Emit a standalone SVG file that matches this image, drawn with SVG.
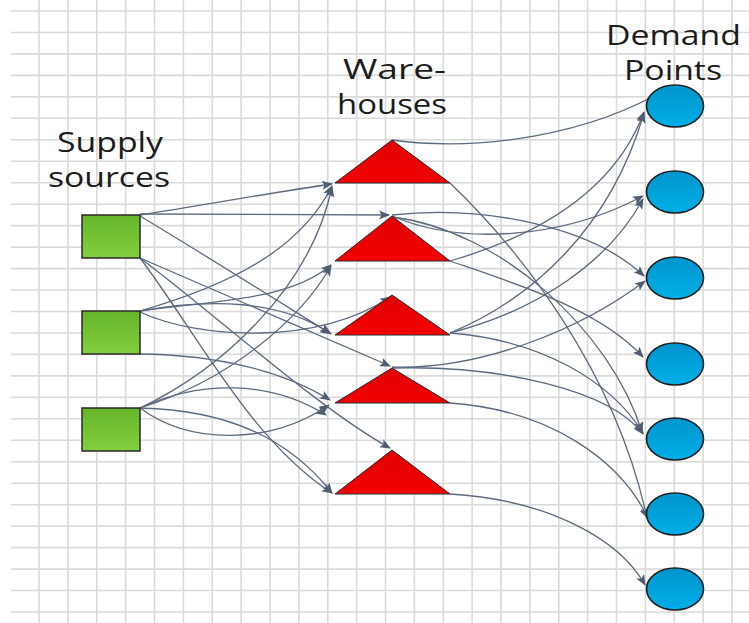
<svg xmlns="http://www.w3.org/2000/svg" width="749" height="623" viewBox="0 0 749 623">
  <style>
    .grid { stroke: #dadada; stroke-width: 1.6; fill: none; }
    .lbl { font-family: "Open Sans", "Noto Sans", "Liberation Sans", sans-serif; font-size: 27px; fill: #1c1c1c; }
    .src { fill: url(#gGreen); stroke: #2a2a2a; stroke-width: 1.5; }
    .wh { fill: url(#gRed); stroke: #2a2a2a; stroke-width: 1; stroke-linejoin: miter; }
    .dp { fill: url(#gBlue); stroke: #1e1e1e; stroke-width: 1.6; }
    .con path { fill: none; stroke: #5c6a80; stroke-width: 1.3; marker-end: url(#arr); }
  </style>
  <defs>
    <linearGradient id="gGreen" x1="0" y1="0" x2="0" y2="1">
      <stop offset="0" stop-color="#66b52a"/>
      <stop offset="1" stop-color="#82cf3e"/>
    </linearGradient>
    <linearGradient id="gRed" x1="0" y1="0" x2="0" y2="1">
      <stop offset="0" stop-color="#e00000"/>
      <stop offset="1" stop-color="#f20000"/>
    </linearGradient>
    <linearGradient id="gBlue" x1="0" y1="0" x2="0" y2="1">
      <stop offset="0" stop-color="#0094cc"/>
      <stop offset="1" stop-color="#00afe8"/>
    </linearGradient>
    <marker id="arr" markerUnits="userSpaceOnUse" markerWidth="11" markerHeight="9" refX="10" refY="4.5" orient="auto">
      <path d="M0,0 L11,4.5 L0,9 L2.5,4.5 z" fill="#4f5d72"/>
    </marker>
  </defs>

  <rect width="749" height="623" fill="#ffffff"/>

  <!-- background grid -->
  <g id="grid">
    <path class="grid" d="M39,0V623 M67.9,0V623 M96.8,0V623 M125.6,0V623 M154.5,0V623 M183.4,0V623 M212.3,0V623 M241.1,0V623 M270,0V623 M298.9,0V623 M327.8,0V623 M356.6,0V623 M385.5,0V623 M414.4,0V623 M443.3,0V623 M472.1,0V623 M501,0V623 M529.9,0V623 M558.8,0V623 M587.6,0V623 M616.5,0V623 M645.4,0V623 M674.3,0V623 M703.1,0V623 M732,0V623"/>
    <path class="grid" d="M11,11H749 M11,32.5H749 M11,53.9H749 M11,75.4H749 M11,96.9H749 M11,118.3H749 M11,139.8H749 M11,161.2H749 M11,182.7H749 M11,204.2H749 M11,225.6H749 M11,247.1H749 M11,268.6H749 M11,290H749 M11,311.5H749 M11,333H749 M11,354.4H749 M11,375.9H749 M11,397.4H749 M11,418.8H749 M11,440.3H749 M11,461.8H749 M11,483.2H749 M11,504.7H749 M11,526.1H749 M11,547.6H749 M11,569.1H749 M11,590.5H749 M11,612H749"/>
  </g>

  <!-- column headings -->
  <g id="labels">
    <text class="lbl" x="57" y="152" textLength="106" lengthAdjust="spacingAndGlyphs">Supply</text>
    <text class="lbl" x="48" y="187" textLength="122" lengthAdjust="spacingAndGlyphs">sources</text>
    <text class="lbl" x="343" y="79" textLength="103" lengthAdjust="spacingAndGlyphs">Ware-</text>
    <text class="lbl" x="337" y="114" textLength="110" lengthAdjust="spacingAndGlyphs">houses</text>
    <text class="lbl" x="606" y="45" textLength="135" lengthAdjust="spacingAndGlyphs">Demand</text>
    <text class="lbl" x="624" y="80" textLength="98" lengthAdjust="spacingAndGlyphs">Points</text>
  </g>

  <!-- flows: supply sources to warehouses, warehouses to demand points -->
  <g id="connectors" class="con">
    <path d="M140,215 C205,205 275,192 332,184"/>
    <path d="M140,214 L389,215"/>
    <path d="M140,216 C200,252 270,296 331,334"/>
    <path d="M140,258 L390,366"/>
    <path d="M140,258 C210,310 320,410 390,448"/>
    <path d="M140,258 C195,330 250,440 332,493"/>
    <path d="M140,311 C230,285 300,250 332,186"/>
    <path d="M140,408 C220,370 310,290 332,187"/>
    <path d="M140,311 C220,300 290,300 331,265"/>
    <path d="M140,408 C230,380 300,320 331,266"/>
    <path d="M140,311 C210,298 280,300 330,333"/>
    <path d="M140,312 C200,340 320,345 390,297"/>
    <path d="M140,354 C220,355 285,372 330,400"/>
    <path d="M140,408 C200,380 270,380 326,415"/>
    <path d="M140,408 C190,445 270,445 329,405"/>
    <path d="M140,408 C230,410 290,440 332,493"/>

    <path d="M392,140 C480,152 590,135 668,88"/>
    <path d="M450,183 C520,250 615,370 647,518"/>
    <path d="M450,261 C540,235 615,190 644,112"/>
    <path d="M450,261 C520,285 600,310 643,357"/>
    <path d="M392,216 C460,245 560,240 643,196"/>
    <path d="M392,215 C480,205 590,225 644,276"/>
    <path d="M392,217 C500,230 610,330 642,432"/>
    <path d="M450,333 C530,300 610,230 644,113"/>
    <path d="M450,333 C540,310 610,260 643,199"/>
    <path d="M450,333 C540,340 610,380 643,433"/>
    <path d="M392,367 C480,370 580,330 645,281"/>
    <path d="M392,368 C500,365 610,390 643,434"/>
    <path d="M450,403 C550,410 620,460 648,518"/>
    <path d="M450,494 C550,500 620,540 645,585"/>
  </g>

  <!-- supply sources -->
  <g id="source-1"><rect class="src" x="82" y="215" width="58" height="43"/></g>
  <g id="source-2"><rect class="src" x="82" y="311" width="58" height="43"/></g>
  <g id="source-3"><rect class="src" x="82" y="408" width="58" height="43"/></g>

  <!-- warehouses -->
  <g id="warehouse-1"><polygon class="wh" points="335,183 392,140 450,183"/></g>
  <g id="warehouse-2"><polygon class="wh" points="335,261 392,216 450,261"/></g>
  <g id="warehouse-3"><polygon class="wh" points="335,335 392,295 450,335"/></g>
  <g id="warehouse-4"><polygon class="wh" points="335,403 392,368 450,403"/></g>
  <g id="warehouse-5"><polygon class="wh" points="335,494 392,450 450,494"/></g>

  <!-- demand points -->
  <g id="demand-1"><ellipse class="dp" cx="675" cy="106" rx="28.5" ry="21"/></g>
  <g id="demand-2"><ellipse class="dp" cx="675" cy="192" rx="28.5" ry="21"/></g>
  <g id="demand-3"><ellipse class="dp" cx="675" cy="278" rx="28.5" ry="21"/></g>
  <g id="demand-4"><ellipse class="dp" cx="675" cy="364" rx="28.5" ry="21"/></g>
  <g id="demand-5"><ellipse class="dp" cx="675" cy="439" rx="28.5" ry="21"/></g>
  <g id="demand-6"><ellipse class="dp" cx="675" cy="514" rx="28.5" ry="21"/></g>
  <g id="demand-7"><ellipse class="dp" cx="675" cy="589" rx="28.5" ry="21"/></g>
</svg>
